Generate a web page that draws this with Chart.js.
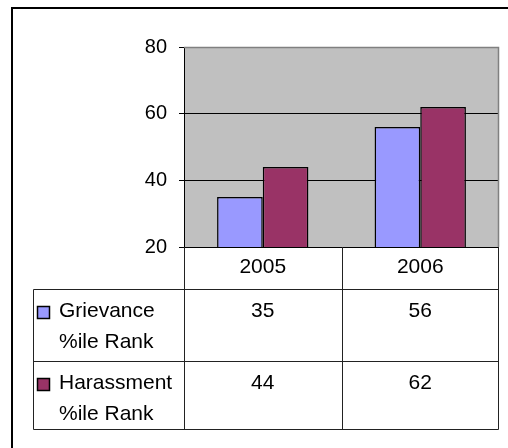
<!DOCTYPE html>
<html lang="en">

<head>
    <meta charset="UTF-8">
    <title>Grievance and Harassment %ile Rank</title>
    <script src="https://cdn.jsdelivr.net/npm/chart.js"></script>
    <style>
        * {
            margin: 0;
            padding: 0;
        }

        body {
            background: #fff;
            width: 508px;
            height: 448px;
            overflow: hidden;
        }

        #chartBox {
            position: relative;
            width: 508px;
            height: 448px;
        }
    </style>
</head>

<body>
    <div id="chartBox">
        <canvas id="rankChart"></canvas>
    </div>

    <script>
        // Chart data
        const years = ['2005', '2006'];
        const grievanceRank = [35, 56];
        const harassmentRank = [44, 62];
        const seriesNames = [['Grievance', '%ile Rank'], ['Harassment', '%ile Rank']];
        const yTicks = [20, 40, 60, 80];

        const FONT = "'Liberation Sans', Arial, sans-serif";
        const TICK_SIZE = 20;
        const TABLE_SIZE = 21;

        // Grey plot background
        const plotBackground = {
            id: 'plotBackground',
            beforeDraw(chart) {
                const { ctx, chartArea: a } = chart;
                ctx.save();
                ctx.fillStyle = '#c0c0c0';
                ctx.fillRect(a.left, a.top, a.right - a.left, a.bottom - a.top);
                ctx.restore();
            }
        };

        // Plot border, outer frame and the data table under the axis
        const dataTable = {
            id: 'dataTable',
            afterDraw(chart) {
                const { ctx, chartArea: a } = chart;
                const x = chart.scales.x;
                const tableLeft = 33;
                const right = Math.round(a.right) - 0.5;
                const headBottom = a.bottom + 42;
                const rowBottoms = [headBottom + 72, headBottom + 140];
                const colEdges = [Math.round(a.left) + 0.5];
                years.forEach((y, i) => {
                    colEdges.push(i === years.length - 1 ? right : Math.round((x.getPixelForValue(i) + x.getPixelForValue(i + 1)) / 2) + 0.5);
                });

                ctx.save();
                // plot border (top / right)
                ctx.strokeStyle = '#808080';
                ctx.lineWidth = 1.5;
                ctx.beginPath();
                ctx.moveTo(a.left, Math.round(a.top) + 0.5);
                ctx.lineTo(right, Math.round(a.top) + 0.5);
                ctx.lineTo(right, a.bottom);
                ctx.stroke();

                // outer frame
                ctx.strokeStyle = '#000';
                ctx.lineWidth = 2;
                ctx.strokeRect(12, 8, 600, 600);

                // table grid
                ctx.strokeStyle = '#222';
                ctx.lineWidth = 1;
                ctx.beginPath();
                colEdges.forEach(cx => {
                    ctx.moveTo(cx, a.bottom);
                    ctx.lineTo(cx, rowBottoms[1] + 0.5);
                });
                ctx.moveTo(tableLeft + 0.5, headBottom + 0.5);
                ctx.lineTo(tableLeft + 0.5, rowBottoms[1] + 0.5);
                [headBottom, ...rowBottoms].forEach(ry => {
                    ctx.moveTo(tableLeft + 0.5, ry + 0.5);
                    ctx.lineTo(right, ry + 0.5);
                });
                ctx.stroke();

                ctx.fillStyle = '#000';
                ctx.font = TABLE_SIZE + 'px ' + FONT;
                ctx.textBaseline = 'alphabetic';

                // header row
                ctx.textAlign = 'center';
                years.forEach((y, i) => {
                    ctx.fillText(y, x.getPixelForValue(i), a.bottom + 26);
                });

                // series rows
                const rowTops = [headBottom, rowBottoms[0]];
                chart.data.datasets.forEach((ds, d) => {
                    const base = rowTops[d] + 28;
                    ctx.textAlign = 'center';
                    ds.data.forEach((v, i) => {
                        ctx.fillText(String(v), x.getPixelForValue(i), base);
                    });
                    // legend key
                    ctx.fillStyle = ds.backgroundColor;
                    ctx.fillRect(37.5, base - 10.5, 12, 12);
                    ctx.strokeStyle = '#000';
                    ctx.lineWidth = 1.5;
                    ctx.strokeRect(37.5, base - 10.5, 12, 12);
                    ctx.fillStyle = '#000';
                    ctx.textAlign = 'left';
                    seriesNames[d].forEach((line, k) => {
                        ctx.fillText(line, 59, base + k * 31);
                    });
                });
                ctx.restore();
            }
        };

        const ctx = document.getElementById('rankChart').getContext('2d');
        const rankChart = new Chart(ctx, {
            type: 'bar',
            data: {
                labels: years,
                datasets: [{
                    label: seriesNames[0].join(' '),
                    data: grievanceRank,
                    backgroundColor: '#9999ff',
                    borderColor: '#000',
                    borderWidth: 1.5,
                    borderSkipped: false
                }, {
                    label: seriesNames[1].join(' '),
                    data: harassmentRank,
                    backgroundColor: '#993366',
                    borderColor: '#000',
                    borderWidth: 1.5,
                    borderSkipped: false
                }]
            },
            options: {
                responsive: true,
                maintainAspectRatio: false,
                animation: false,
                layout: {
                    padding: { left: 0, top: 47, right: 9, bottom: 201 }
                },
                datasets: {
                    bar: {
                        categoryPercentage: 0.58,
                        barPercentage: 1
                    }
                },
                scales: {
                    x: {
                        display: false
                    },
                    y: {
                        min: yTicks[0],
                        max: yTicks[yTicks.length - 1],
                        afterFit(scale) {
                            scale.width = 184;
                        },
                        afterBuildTicks(scale) {
                            scale.ticks = yTicks.map(v => ({ value: v }));
                        },
                        ticks: {
                            color: '#000',
                            padding: 12,
                            font: { family: FONT, size: TICK_SIZE }
                        },
                        grid: {
                            tickLength: 5,
                            tickColor: '#000',
                            color: c => (c.tick && c.tick.value === yTicks[yTicks.length - 1]) ? 'rgba(0,0,0,0)' : '#000',
                            lineWidth: 1
                        },
                        border: {
                            color: '#000',
                            width: 1
                        }
                    }
                },
                plugins: {
                    legend: { display: false },
                    tooltip: { enabled: false }
                }
            },
            plugins: [plotBackground, dataTable]
        });
    </script>
</body>

</html>
